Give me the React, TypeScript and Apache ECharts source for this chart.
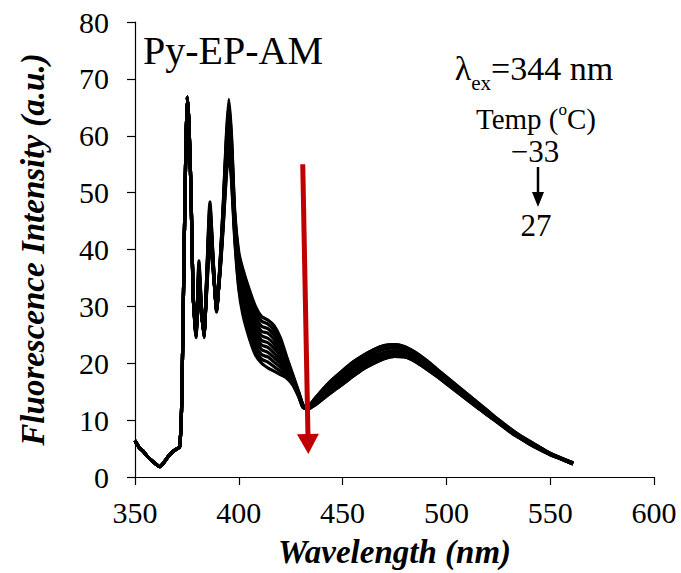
import React, { useEffect, useRef } from "react";
import * as echarts from "echarts";

// Wavelength grid (nm)
const wlHead = [350, 352, 354, 356, 358, 360, 362, 364, 366, 368, 370, 371.5, 372.5, 373.5, 374.5, 375.2, 376, 377];
const wlMid = [378, 379.4, 380.8, 382, 383.2, 384.6, 386.1, 387.7, 389.3, 391, 392.5, 394, 395.2, 396.5, 398, 400, 402, 405, 408, 411, 414, 417, 420, 423, 426, 429, 431];
const wlTail = [433, 436, 440, 445, 450, 455, 460, 465, 470, 475, 480, 485, 490, 495, 500, 505, 510, 515, 520, 525, 530, 535, 540, 545, 550, 555, 561];

// Common onset (identical for all temperatures)
const valHead = [6.4, 5.2, 4.5, 3.6, 2.9, 2.3, 1.8, 2.6, 3.6, 4.4, 4.9, 5.3, 13, 36, 58, 66.8, 62, 50];

// Temperatures (°C)
const temps = [-33, -27, -21, -15, -9, -3, 3, 9, 15, 21, 27];

// Monomer region per temperature
const mid_m33 = [32, 24.5, 38, 30, 24.5, 36, 48.4, 38, 29, 38, 48, 60, 66.4, 60, 47, 39.5, 36.5, 33, 30, 28.2, 27.6, 26.6, 24.5, 21.2, 18, 14.8, 12.6];
const mid_m27 = [32, 24.7, 37.4, 29.8, 24.6, 35.7, 47.7, 37.8, 29.1, 37.8, 47.6, 59.3, 65.5, 59.2, 46.5, 38.9, 35.7, 32.1, 29.1, 27.4, 26.9, 25.8, 23.8, 20.8, 17.8, 14.7, 12.6];
const mid_m21 = [32, 24.8, 36.9, 29.7, 24.7, 35.4, 47, 37.6, 29.2, 37.6, 47.2, 58.6, 64.5, 58.4, 46, 38.2, 34.9, 31.3, 28.3, 26.5, 26.1, 25, 23.2, 20.4, 17.6, 14.6, 12.5];
const mid_m15 = [32, 25, 36.3, 29.5, 24.8, 35.1, 46.3, 37.4, 29.3, 37.4, 46.8, 57.9, 63.6, 57.6, 45.5, 37.6, 34.1, 30.4, 27.4, 25.6, 25.3, 24.2, 22.5, 20, 17.4, 14.5, 12.5];
const mid_m9 = [32, 25.1, 35.8, 29.4, 24.9, 34.8, 45.6, 37.2, 29.4, 37.2, 46.4, 57.2, 62.7, 56.8, 45, 36.9, 33.3, 29.6, 26.6, 24.8, 24.4, 23.4, 21.9, 19.7, 17.2, 14.5, 12.4];
const mid_m3 = [32, 25.3, 35.2, 29.2, 25, 34.5, 45, 37, 29.5, 37, 46, 56.5, 61.7, 56, 44.5, 36.2, 32.5, 28.7, 25.7, 24, 23.6, 22.6, 21.3, 19.3, 17, 14.4, 12.4];
const mid_p3 = [32, 25.4, 34.7, 29.1, 25.1, 34.2, 44.3, 36.8, 29.6, 36.8, 45.6, 55.8, 60.8, 55.2, 44, 35.6, 31.7, 27.9, 24.9, 23.2, 22.8, 21.8, 20.6, 18.9, 16.8, 14.3, 12.3];
const mid_p9 = [32, 25.5, 34.1, 28.9, 25.2, 33.9, 43.6, 36.6, 29.7, 36.6, 45.2, 55.1, 59.8, 54.4, 43.5, 34.9, 30.9, 27, 24, 22.4, 21.9, 21, 20, 18.5, 16.6, 14.2, 12.3];
const mid_p15 = [32, 25.7, 33.6, 28.8, 25.3, 33.6, 42.9, 36.4, 29.8, 36.4, 44.8, 54.4, 58.9, 53.6, 43, 34.3, 30.1, 26.2, 23.2, 21.5, 21.1, 20.2, 19.3, 18.1, 16.5, 14.1, 12.2];
const mid_p21 = [32, 25.8, 33, 28.6, 25.4, 33.3, 42.2, 36.2, 29.9, 36.2, 44.4, 53.7, 57.9, 52.8, 42.5, 33.6, 29.3, 25.3, 22.3, 20.7, 20.2, 19.4, 18.6, 17.8, 16.3, 14.1, 12.2];
const mid_p27 = [32, 26, 32.5, 28.5, 25.5, 33, 41.5, 36, 30, 36, 44, 53, 57, 52, 42, 33, 28.5, 24.5, 21.5, 20, 19.2, 18.6, 18, 17.4, 16.2, 14, 12.2];
const midRows = [mid_m33, mid_m27, mid_m21, mid_m15, mid_m9, mid_m3, mid_p3, mid_p9, mid_p15, mid_p21, mid_p27];

// Excimer band (five slightly different envelopes)
const tailA = [12.3, 13.5, 15.2, 17.1, 18.7, 20.2, 21.4, 22.4, 23.1, 23.3, 22.9, 21.9, 20.6, 19.1, 17.6, 16.1, 14.6, 13.1, 11.6, 10.1, 8.7, 7.4, 6.3, 5.2, 4.2, 3.4, 2.5];
const tailB = [12.2, 13.2, 14.8, 16.5, 18.1, 19.5, 20.8, 21.8, 22.5, 22.8, 22.4, 21.5, 20.2, 18.8, 17.3, 15.8, 14.3, 12.8, 11.4, 9.9, 8.5, 7.2, 6.1, 5.1, 4.1, 3.3, 2.4];
const tailC = [12.1, 13, 14.4, 16, 17.5, 18.9, 20.2, 21.2, 21.9, 22.2, 21.9, 21, 19.8, 18.4, 17, 15.5, 14, 12.6, 11.2, 9.8, 8.4, 7.1, 6, 5, 4.1, 3.3, 2.4];
const tailD = [12, 12.7, 14, 15.5, 16.9, 18.3, 19.6, 20.6, 21.3, 21.7, 21.5, 20.6, 19.4, 18.1, 16.7, 15.2, 13.8, 12.4, 11, 9.6, 8.3, 7, 5.9, 4.9, 4, 3.2, 2.3];
const tailE = [11.9, 12.5, 13.6, 15, 16.3, 17.7, 19, 20, 20.8, 21.2, 21.1, 20.3, 19.1, 17.8, 16.4, 15, 13.6, 12.2, 10.8, 9.5, 8.1, 6.9, 5.8, 4.8, 3.9, 3.2, 2.3];
const tailRows = [tailA, tailC, tailE, tailB, tailD, tailA, tailC, tailE, tailB, tailD, tailC];

// Red arrow (data coordinates)
const redArrow = [[430.8, 55], [433.4, 5.8]];

const FONT = '"Liberation Serif", "Times New Roman", serif';

export default function App() {
  const ref = useRef<HTMLDivElement>(null);
  useEffect(() => {
    document.body.style.margin = "0";
    const chart = echarts.init(ref.current!, undefined, { renderer: "svg" });
    const wl = [...wlHead, ...wlMid, ...wlTail];
    const series: any[] = temps.map((t, i) => {
      const vals = [...valHead, ...midRows[i], ...tailRows[i]];
      return {
        name: `${t} °C`,
        type: "line",
        data: wl.map((x, k) => [x, vals[k]]),
        showSymbol: false,
        smooth: 0.2,
        lineStyle: { color: "#000", width: 3.2 },
        z: 2,
      };
    });
    series.push({
      type: "line",
      data: [],
      z: 5,
      markLine: {
        silent: true,
        symbol: ["none", "triangle"],
        symbolSize: [22, 20],
        label: { show: false },
        lineStyle: { color: "#C00000", width: 5, type: "solid" },
        itemStyle: { color: "#C00000" },
        data: [[{ coord: redArrow[0] }, { coord: redArrow[1] }]],
      },
    });
    chart.setOption({
      animation: false,
      textStyle: { fontFamily: FONT },
      grid: { left: 135, top: 22, right: 27, bottom: 93, containLabel: false },
      xAxis: {
        type: "value",
        min: 350,
        max: 600,
        interval: 50,
        name: "Wavelength (nm)",
        nameLocation: "middle",
        nameGap: 58,
        nameTextStyle: { fontFamily: FONT, fontSize: 33, fontWeight: "bold", fontStyle: "italic", color: "#000" },
        axisLine: { lineStyle: { color: "#000", width: 1.2 } },
        axisTick: { inside: false, length: 8, lineStyle: { color: "#000", width: 1.2 } },
        axisLabel: { fontFamily: FONT, fontSize: 30, color: "#000", margin: 20 },
        splitLine: { show: false },
      },
      yAxis: {
        type: "value",
        min: 0,
        max: 80,
        interval: 10,
        name: "Fluorescence Intensity (a.u.)",
        nameLocation: "middle",
        nameGap: 86,
        nameTextStyle: { fontFamily: FONT, fontSize: 33, fontWeight: "bold", fontStyle: "italic", color: "#000" },
        axisLine: { show: true, lineStyle: { color: "#000", width: 1.2 } },
        axisTick: { show: true, inside: false, length: 8, lineStyle: { color: "#000", width: 1.2 } },
        axisLabel: { fontFamily: FONT, fontSize: 30, color: "#000", margin: 26 },
        splitLine: { show: false },
      },
      series,
      graphic: [
        {
          type: "text",
          left: 143,
          top: 30,
          style: { text: "Py-EP-AM", font: `40px ${FONT}`, fill: "#000" },
        },
        {
          type: "text",
          x: 534,
          y: 72,
          style: {
            text: "{a|λ}{b|ex}{a|=344 nm}",
            align: "center",
            verticalAlign: "middle",
            fill: "#000",
            rich: {
              a: { fontFamily: FONT, fontSize: 34, lineHeight: 42, verticalAlign: "top", fill: "#000" },
              b: { fontFamily: FONT, fontSize: 21, lineHeight: 20, verticalAlign: "bottom", fill: "#000" },
            },
          },
        },
        {
          type: "text",
          x: 536,
          y: 117,
          style: {
            text: "{a|Temp (}{b|o}{a|C)}",
            align: "center",
            verticalAlign: "middle",
            fill: "#000",
            rich: {
              a: { fontFamily: FONT, fontSize: 29, lineHeight: 32, verticalAlign: "bottom", fill: "#000" },
              b: { fontFamily: FONT, fontSize: 17, lineHeight: 17, verticalAlign: "top", fill: "#000" },
            },
          },
        },
        {
          type: "text",
          x: 535,
          y: 151,
          style: { text: "\u221233", font: `31px ${FONT}`, fill: "#000", align: "center", verticalAlign: "middle" },
        },
        {
          type: "line",
          shape: { x1: 538, y1: 167, x2: 538, y2: 195 },
          style: { stroke: "#000", lineWidth: 2.5 },
        },
        {
          type: "polygon",
          shape: { points: [[532, 192], [544, 192], [538, 207]] },
          style: { fill: "#000" },
        },
        {
          type: "text",
          x: 536,
          y: 225,
          style: { text: "27", font: `31px ${FONT}`, fill: "#000", align: "center", verticalAlign: "middle" },
        },
      ],
    });
    return () => chart.dispose();
  }, []);
  return <div ref={ref} style={{ position: "absolute", left: 0, top: 0, width: 681, height: 573 }} />;
}
